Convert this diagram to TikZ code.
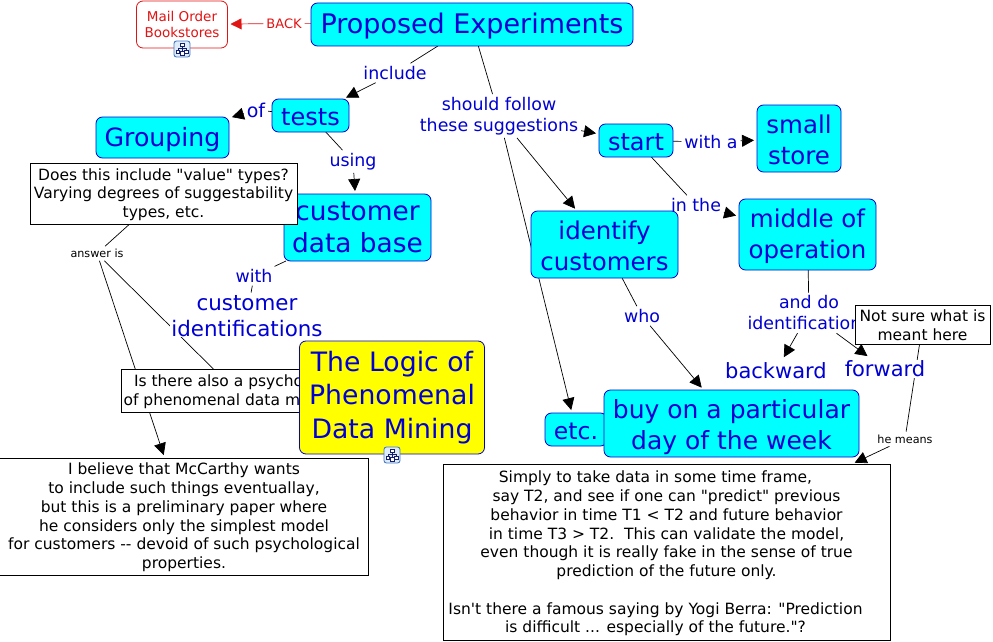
\documentclass[tikz,border=0pt]{standalone}
\usepackage{fontspec}
\newfontfamily\plainfont{DejaVu Sans}
\usetikzlibrary{arrows.meta,backgrounds}
\definecolor{cmblue}{RGB}{0,0,210}
\definecolor{cmred}{RGB}{225,20,20}
\definecolor{cmcyan}{RGB}{0,255,255}
\definecolor{cmyellow}{RGB}{255,255,0}
\definecolor{iconedge}{RGB}{70,120,200}
\definecolor{iconfill}{RGB}{222,236,250}
\definecolor{iconink}{RGB}{20,30,110}
\newcommand{\fs}[2]{\plainfont\fontsize{#1}{#2}\selectfont}
\newcommand{\dn}[1]{\rule{0pt}{\dimexpr 0.76em+#1pt+#1pt\relax}}
\newcommand{\tp}{\hspace*{22pt}}
\tikzset{
  x=1pt,y=-1pt,
  concept/.style={draw=cmblue,fill=cmcyan,text=cmblue,rounded corners=6.5pt,line width=0.8pt,align=center,inner sep=0pt,outer sep=0pt},
  note/.style={draw=black,fill=white,text=black,align=center,line width=0.8pt,inner sep=0pt,outer sep=0pt,font=\fs{15.5}{18.75}},
  lab/.style={fill=white,text=cmblue,align=center,inner sep=1pt,outer sep=2pt,font=\fs{17.4}{21}},
  blab/.style={fill=white,text=black,align=center,inner sep=1pt,outer sep=2pt,font=\fs{11.2}{12}},
  conn/.style={draw=black,line width=0.7pt},
  arr/.style={conn,-{Triangle[length=12pt,width=12pt]},shorten >=3pt},
  redarr/.style={draw=cmred,line width=0.7pt,-{Triangle[length=11pt,width=11pt]},shorten >=3pt},
  mapicon/.pic={
    \draw[draw=iconedge,fill=iconfill,rounded corners=2.5pt,line width=0.9pt] (-8,-8) rectangle (8,8);
    \draw[draw=iconink,line width=0.6pt,fill=white] (-2,-6) rectangle (2,-2.5) (-6,1) rectangle (-2.5,4.5) (2.5,1) rectangle (6,4.5) (-2,2.5) rectangle (2,6);
    \draw[draw=iconink,line width=0.6pt] (0,-2.5) -- (0,2.5) (-4.2,1) -- (-4.2,-0.8) -- (4.2,-0.8) -- (4.2,1);
  },
}
\begin{document}
\begin{tikzpicture}
\useasboundingbox (0,0) rectangle (993,642);
% labels
\node[lab,text=cmred,font=\fs{13}{16}] (back) at (284,23.5) {BACK};
\node[lab] (include) at (395,73) {include};
\node[lab,font=\fs{19}{21}] (of) at (256,110) {of};
\node[lab] (using) at (353,161.5) {using};
\node[lab] (should) at (499,116) {should follow\\these suggestions};
\node[lab] (witha) at (711,142) {with a};
\node[lab] (inthe) at (696,205) {in the};
\node[lab] (who) at (642,316) {who};
\node[lab] (anddo) at (809,313) {and do\\identifications};
\node[lab] (with) at (254,276) {with};
\node[lab,font=\fs{21.4}{25.5}] (custid) at (247,316) {customer\\identifications};
\node[lab,font=\fs{21}{24}] (backward) at (776,371) {backward};
\node[lab,font=\fs{21}{24}] (forward) at (885,369) {forward};
\node[blab] (answer) at (97,253.5) {answer is};
\node[blab] (hemeans) at (905,439) {he means};
% boxes
\node[draw=cmred,fill=white,text=cmred,rounded corners=6.5pt,line width=0.8pt,align=center,inner sep=0pt,outer sep=0pt,minimum width=91pt,minimum height=47pt,font=\fs{13.5}{16.5}] (mail) at (182,24.5) {Mail Order\\Bookstores};
\node[concept,minimum width=322pt,minimum height=43pt,font=\fs{27}{32}] (proposed) at (472,24.5) {\dn{2}Proposed Experiments};
\node[concept,minimum width=77pt,minimum height=33pt,font=\fs{24}{28}] (tests) at (310.5,115.5) {\dn{1}tests};
\node[concept,minimum width=133pt,minimum height=41pt,font=\fs{25.2}{32}] (grouping) at (162.5,137.5) {\dn{2}Grouping};
\node[concept,minimum width=147pt,minimum height=67pt,font=\fs{26.4}{32}] (custdb) at (357.5,227.5) {customer\\data base};
\node[concept,minimum width=74pt,minimum height=33pt,font=\fs{24}{28}] (start) at (636,140.5) {\dn{1.5}start};
\node[concept,minimum width=84pt,minimum height=67pt,font=\fs{24.5}{31}] (small) at (799,138.5) {\dn{1.5}small\\store};
\node[concept,minimum width=147pt,minimum height=67pt,font=\fs{24.5}{31}] (identify) at (604.5,244.5) {\dn{1.5}identify\\customers};
\node[concept,minimum width=137pt,minimum height=71pt,font=\fs{24.5}{31}] (middle) at (807.5,234.5) {\dn{2}middle of\\operation};
\node[concept,minimum width=62pt,minimum height=33pt,font=\fs{23.5}{28}] (etc) at (576,429.5) {\dn{1}etc.};
\node[concept,minimum width=255pt,minimum height=67pt,font=\fs{25}{31}] (buy) at (731.5,423.5) {\dn{3.5}buy on a particular\\day of the week};
\node[note,minimum width=267pt,minimum height=61pt] (does) at (163.5,193.5) {\dn{1}Does this include "value" types?\\Varying degrees of suggestability\\types, etc.};
\node[note,minimum width=228pt,minimum height=43pt] (isthere) at (235,390.5) {\dn{1}Is there also a psychology\\of phenomenal data mining?};
\node[concept,draw=cmblue,fill=cmyellow,minimum width=185pt,minimum height=113pt,font=\fs{26.7}{33.5}] (logic) at (392,397.5) {The Logic of\\Phenomenal\\Data Mining};
\node[note,minimum width=369pt,minimum height=117pt] (believe) at (184,516.5) {\dn{1}I believe that McCarthy wants\\to include such things eventuallay,\\but this is a preliminary paper where\\he considers only the simplest model\\for customers -- devoid of such psychological\\properties.};
\node[note,minimum width=135pt,minimum height=39pt] (notsure) at (922.5,325) {Not sure what is\\meant here};
\node[note,minimum width=447pt,minimum height=176pt] (simply) at (666.5,552) {\dn{1.5}Simply to take data in some time frame,\tp\\say T2, and see if one can "predict" previous\tp\\behavior in time T1 < T2 and future behavior\tp\\in time T3 > T2.\ \ This can validate the model,\tp\\even though it is really fake in the sense of true\tp\\prediction of the future only.\tp\\\mbox{}\\Isn't there a famous saying by Yogi Berra: "Prediction\hspace*{22pt}\mbox{}\\is difficult ... especially of the future."?\tp};
\path (182,49) pic {mapicon} (392,455) pic {mapicon};
% connectors
\begin{scope}[on background layer]
\draw[draw=cmred,line width=0.7pt] (proposed) -- (back);
\draw[redarr] (back) -- (mail);
\draw[conn] (proposed) -- (include);
\draw[arr] (include) -- (tests);
\draw[conn] (tests) -- (of);
\draw[arr] (of) -- (grouping);
\draw[conn] (tests) -- (using);
\draw[arr] (using) -- (custdb);
\draw[conn] (custdb) -- (with);
\draw[conn] (with) -- (custid);
\draw[conn] (proposed) -- (should);
\draw[arr] (should) -- (start);
\draw[arr] (should) -- (identify);
\draw[arr] (should) -- (etc);
\draw[conn] (start) -- (witha);
\draw[arr] (witha) -- (small);
\draw[conn] (start) -- (inthe);
\draw[arr] (inthe) -- (middle);
\draw[conn] (middle) -- (anddo);
\draw[arr] (anddo) -- (backward);
\draw[arr] (anddo) -- (forward);
\draw[conn] (identify) -- (who);
\draw[arr] (who) -- (buy);
\draw[conn] (does) -- (answer);
\draw[conn] (answer) -- (isthere);
\draw[arr] (answer) -- (believe);
\draw[conn] (notsure) -- (hemeans);
\draw[arr] (hemeans) -- (simply);
\end{scope}
\end{tikzpicture}
\end{document}
